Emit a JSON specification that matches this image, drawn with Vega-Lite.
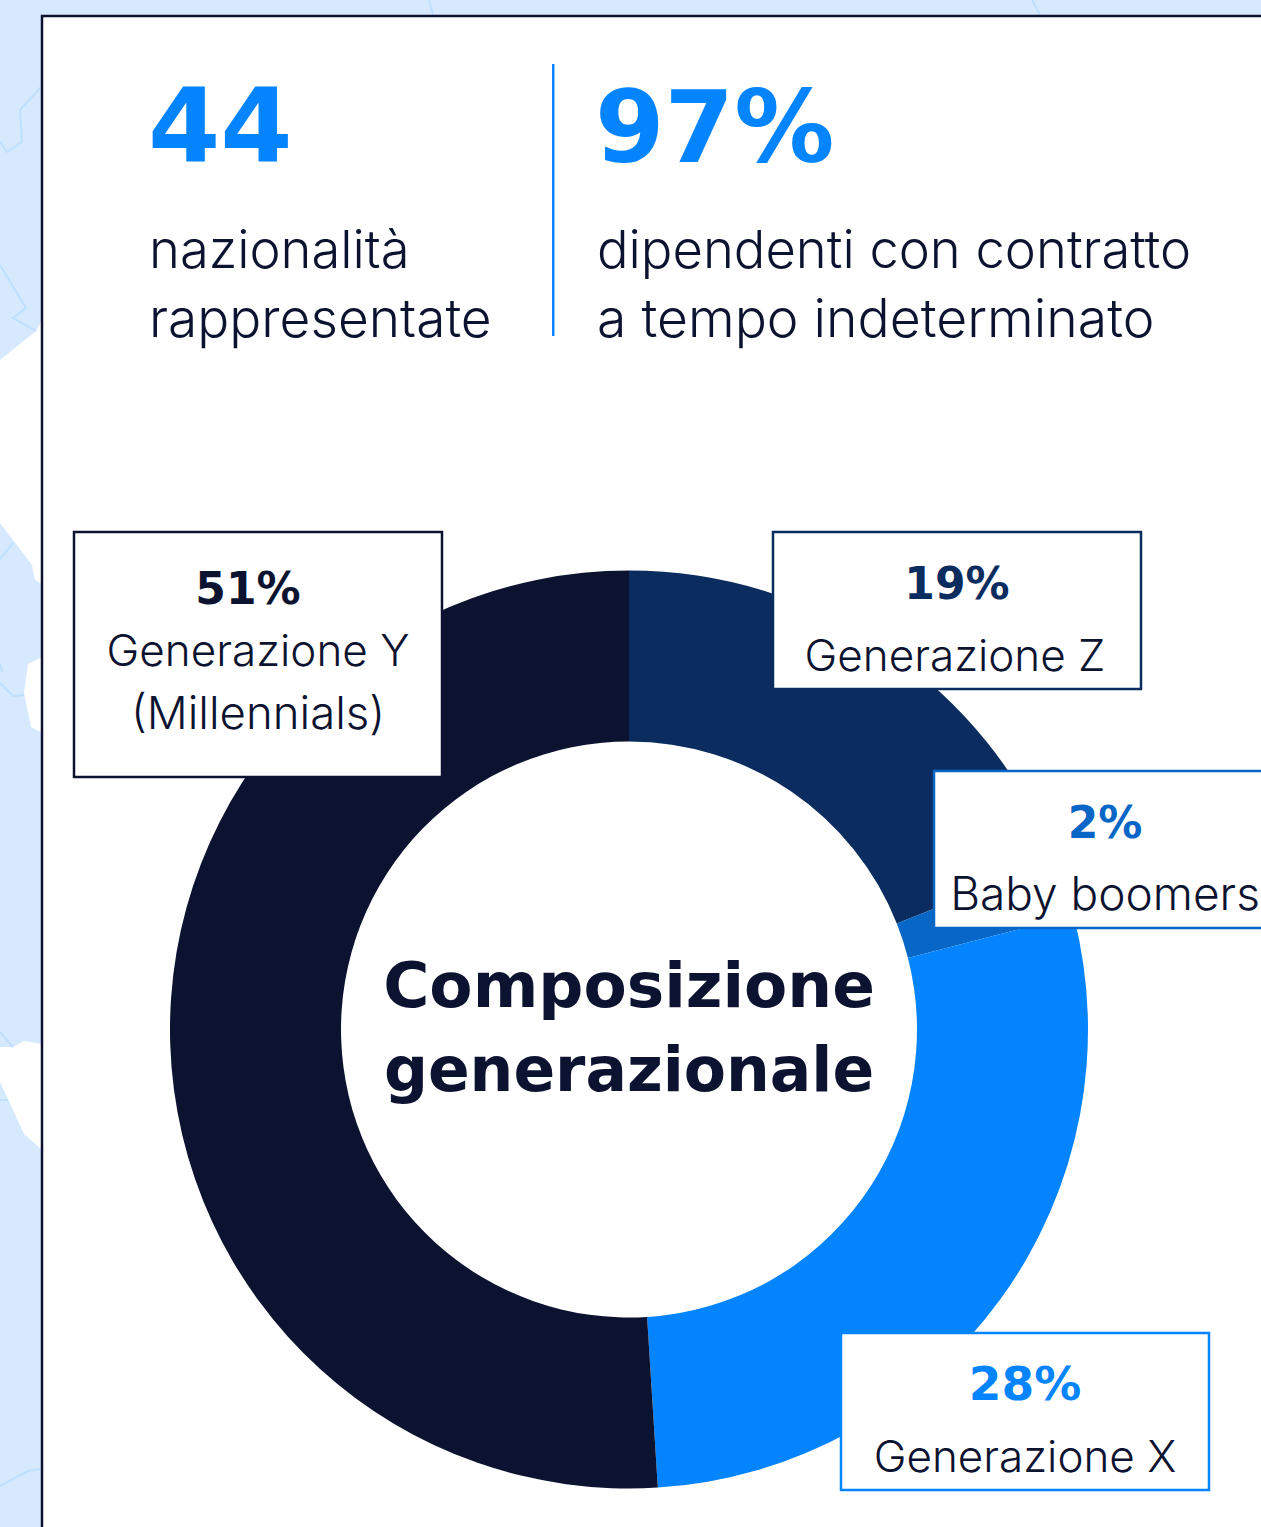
{"$schema":"https://vega.github.io/schema/vega-lite/v6.json","width":1261,"height":1527,"padding":0,"autosize":"none","background":"#d6e9ff","config":{"view":{"stroke":null},"text":{"baseline":"alphabetic"}},
"datasets":{"gen":[{"g":"Generazione Z","o":1,"share":19,"pct":"19%"},{"g":"Baby boomers","o":2,"share":2,"pct":"2%"},{"g":"Generazione X","o":3,"share":28,"pct":"28%"},{"g":"Generazione Y","o":4,"share":51,"pct":"51%"}],
"patches":[{"type":"Feature","geometry":{"type":"Polygon","coordinates":[[[0,360],[36,331],[42,320],[42,584],[35,580],[32,565],[0,523],[0,360]]]}},{"type":"Feature","geometry":{"type":"Polygon","coordinates":[[[42,657],[28,664],[24,693],[31,727],[42,733],[42,657]]]}},{"type":"Feature","geometry":{"type":"Polygon","coordinates":[[[0,1047],[13,1047],[24,1041],[42,1044],[42,1150],[24,1134],[8,1099],[0,1082],[0,1047]]]}}],
"borders":[{"type":"Feature","geometry":{"type":"LineString","coordinates":[[41,87],[20,110],[22,142],[7,152],[0,142]]}},{"type":"Feature","geometry":{"type":"LineString","coordinates":[[0,265],[26,308],[13,318],[36,331]]}},{"type":"Feature","geometry":{"type":"LineString","coordinates":[[0,559],[13,543]]}},{"type":"Feature","geometry":{"type":"LineString","coordinates":[[0,664],[2,672]]}},{"type":"Feature","geometry":{"type":"LineString","coordinates":[[0,683],[13,696],[24,695]]}},{"type":"Feature","geometry":{"type":"LineString","coordinates":[[0,1032],[13,1047]]}},{"type":"Feature","geometry":{"type":"LineString","coordinates":[[0,1100],[8,1100]]}},{"type":"Feature","geometry":{"type":"LineString","coordinates":[[0,1486],[28,1471],[41,1469]]}},{"type":"Feature","geometry":{"type":"LineString","coordinates":[[429,0],[433,15]]}},{"type":"Feature","geometry":{"type":"LineString","coordinates":[[1032,0],[1040,15]]}}]},
"data":{"name":"gen"},
"layer":[
{"data":{"name":"patches"},"projection":{"type":"identity","scale":1,"translate":[0,0]},"mark":{"type":"geoshape","fill":"#ffffff","stroke":null}},
{"data":{"name":"borders"},"projection":{"type":"identity","scale":1,"translate":[0,0]},"mark":{"type":"geoshape","filled":false,"stroke":"#bfdfff","strokeWidth":2}},
{"data":{"values":[{}]},"mark":{"type":"rect","x":42,"y":16,"x2":1320,"y2":1600,"fill":"#ffffff","stroke":"#0c1330","strokeWidth":2.5}},
{"data":{"values":[{}]},"mark":{"type":"rect","x":552,"y":64,"x2":554.5,"y2":336,"fill":"#0a84ff"}},
{"mark":{"type":"arc","x":629,"y":1029.5,"radius":459,"radius2":288},"encoding":{"theta":{"field":"share","type":"quantitative","stack":true,"scale":{"domain":[0,100]}},"order":{"field":"o","type":"ordinal"},"color":{"field":"g","type":"nominal","legend":null,"scale":{"domain":["Generazione Z","Baby boomers","Generazione X","Generazione Y"],"range":["#0a2c5f","#0866c6","#0584ff","#0c1330"]}}}},
{"data":{"values":[{}]},"mark":{"type":"rect","x":74,"y":532,"x2":442,"y2":777,"fill":"#ffffff","stroke":"#0c1330","strokeWidth":2.5}},
{"data":{"values":[{}]},"mark":{"type":"rect","x":773,"y":532,"x2":1141,"y2":689,"fill":"#ffffff","stroke":"#0a2c5f","strokeWidth":2.5}},
{"data":{"values":[{}]},"mark":{"type":"rect","x":934,"y":771,"x2":1320,"y2":928,"fill":"#ffffff","stroke":"#0866c6","strokeWidth":2.5}},
{"data":{"values":[{}]},"mark":{"type":"rect","x":841,"y":1333,"x2":1209,"y2":1490,"fill":"#ffffff","stroke":"#0584ff","strokeWidth":2.5}},
{"data":{"values":[{"t":"44"}]},"mark":{"type":"text","x":148,"y":162,"align":"left","font":"DejaVu Sans","fontWeight":"bold","fontSize":104,"fill":"#0584ff"},"encoding":{"text":{"field":"t"}}},
{"data":{"values":[{"t":"97%"}]},"mark":{"type":"text","x":595,"y":162,"align":"left","font":"DejaVu Sans","fontWeight":"bold","fontSize":100,"fill":"#0584ff"},"encoding":{"text":{"field":"t"}}},
{"data":{"values":[{"t":"nazionalità"}]},"mark":{"type":"text","x":149,"y":268,"align":"left","font":"Inter","fontWeight":300,"fontSize":52.5,"fill":"#0c1330"},"encoding":{"text":{"field":"t"}}},
{"data":{"values":[{"t":"rappresentate"}]},"mark":{"type":"text","x":149,"y":337,"align":"left","font":"Inter","fontWeight":300,"fontSize":53.2,"fill":"#0c1330"},"encoding":{"text":{"field":"t"}}},
{"data":{"values":[{"t":"dipendenti con contratto"}]},"mark":{"type":"text","x":597,"y":268,"align":"left","font":"Inter","fontWeight":300,"fontSize":52.5,"fill":"#0c1330"},"encoding":{"text":{"field":"t"}}},
{"data":{"values":[{"t":"a tempo indeterminato"}]},"mark":{"type":"text","x":597,"y":337,"align":"left","font":"Inter","fontWeight":300,"fontSize":53.5,"fill":"#0c1330"},"encoding":{"text":{"field":"t"}}},
{"data":{"values":[{"t":"Composizione"}]},"mark":{"type":"text","x":629,"y":1007,"align":"center","font":"DejaVu Sans","fontWeight":"bold","fontSize":63,"fill":"#0c1330"},"encoding":{"text":{"field":"t"}}},
{"data":{"values":[{"t":"generazionale"}]},"mark":{"type":"text","x":629,"y":1091,"align":"center","font":"DejaVu Sans","fontWeight":"bold","fontSize":61.5,"fill":"#0c1330"},"encoding":{"text":{"field":"t"}}},
{"transform":[{"filter":"datum.o==4"}],"mark":{"type":"text","x":248,"y":604,"align":"center","font":"DejaVu Sans","fontWeight":"bold","fontSize":44,"fill":"#0c1330"},"encoding":{"text":{"field":"pct"}}},
{"data":{"values":[{"t":"Generazione Y"}]},"mark":{"type":"text","x":258,"y":666,"align":"center","font":"Inter","fontWeight":300,"fontSize":44,"fill":"#0c1330"},"encoding":{"text":{"field":"t"}}},
{"data":{"values":[{"t":"(Millennials)"}]},"mark":{"type":"text","x":258,"y":729,"align":"center","font":"Inter","fontWeight":300,"fontSize":45.5,"fill":"#0c1330"},"encoding":{"text":{"field":"t"}}},
{"transform":[{"filter":"datum.o==1"}],"mark":{"type":"text","x":957,"y":599,"align":"center","font":"DejaVu Sans","fontWeight":"bold","fontSize":44,"fill":"#0a2c5f"},"encoding":{"text":{"field":"pct"}}},
{"data":{"values":[{"t":"Generazione Z"}]},"mark":{"type":"text","x":955,"y":671,"align":"center","font":"Inter","fontWeight":300,"fontSize":44,"fill":"#0c1330"},"encoding":{"text":{"field":"t"}}},
{"transform":[{"filter":"datum.o==2"}],"mark":{"type":"text","x":1105,"y":838,"align":"center","font":"DejaVu Sans","fontWeight":"bold","fontSize":44,"fill":"#0866c6"},"encoding":{"text":{"field":"pct"}}},
{"data":{"values":[{"t":"Baby boomers"}]},"mark":{"type":"text","x":1105,"y":910,"align":"center","font":"Inter","fontWeight":300,"fontSize":46,"fill":"#0c1330"},"encoding":{"text":{"field":"t"}}},
{"transform":[{"filter":"datum.o==3"}],"mark":{"type":"text","x":1025,"y":1400,"align":"center","font":"DejaVu Sans","fontWeight":"bold","fontSize":47,"fill":"#0584ff"},"encoding":{"text":{"field":"pct"}}},
{"data":{"values":[{"t":"Generazione X"}]},"mark":{"type":"text","x":1025,"y":1472,"align":"center","font":"Inter","fontWeight":300,"fontSize":44,"fill":"#0c1330"},"encoding":{"text":{"field":"t"}}}
]}
